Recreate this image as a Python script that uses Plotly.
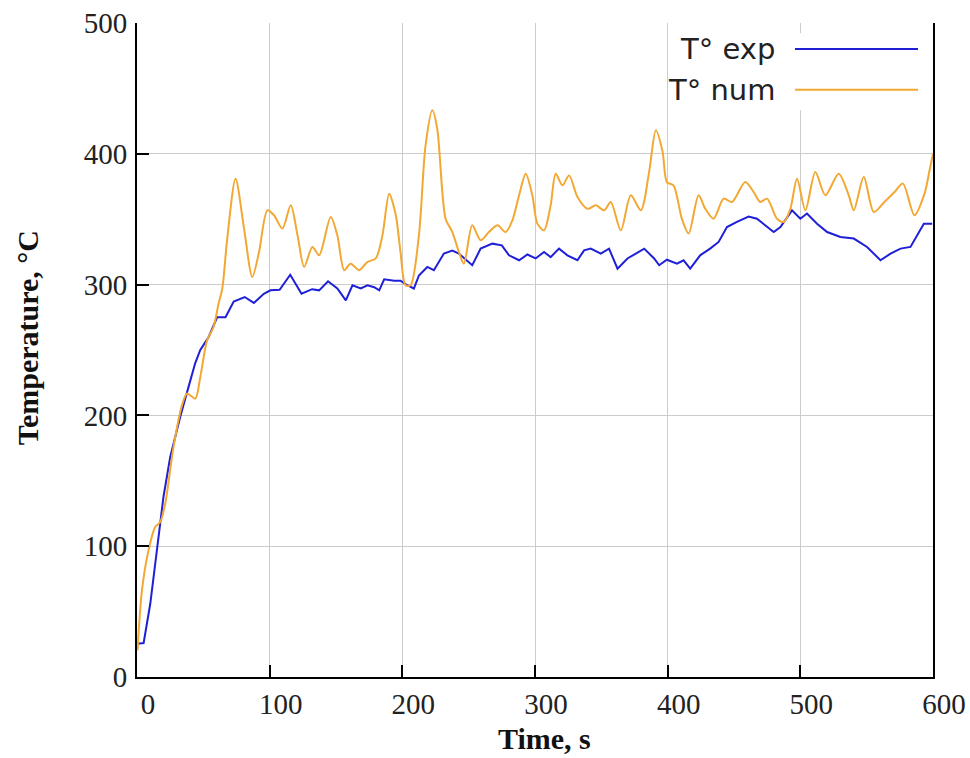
import plotly.graph_objects as go

# ---- data ----
exp_time = [0, 5, 10, 15, 20, 25, 32.6, 38.9, 43.9, 47.7,
            54, 60.4, 66.7, 72.9, 81.2, 88.1, 95.6, 100.6, 107.5, 115.5,
            124, 132, 137.3, 144, 151, 157.4, 162.4, 168.7, 173.7, 178.8,
            182.6, 186.3, 193.9, 198.6, 203.7, 208.7, 212.5, 218.8, 223.8, 231.3,
            237.7, 242.6, 252.7, 259, 267.8, 275, 280.4, 288, 294.3, 300.5,
            306.8, 311.8, 318.1, 324.4, 332, 337, 342, 349.6, 355.8, 362.2,
            369.7, 376, 382.3, 389.8, 393.6, 399.4, 407, 412, 417, 424.5,
            432, 438.4, 444.7, 452.2, 461, 467.3, 473.6, 479.9, 485, 493.7,
            500, 505, 512.6, 520.2, 530.2, 540.3, 550.3, 560.4, 568, 575.5,
            583, 593.1, 599.4]
exp_temp = [25.5, 26, 56, 97, 138, 168, 199, 222, 240, 250,
            260, 275, 275, 287, 290.5, 286, 293, 295.6, 296, 307.5,
            293, 296.5, 295.6, 302.5, 297, 288, 299.5, 297, 299.5, 298,
            295.6, 304, 303, 303, 299.5, 297, 307, 313.5, 311, 323.7,
            326, 323.7, 314.8, 327.5, 331.3, 330, 322.4, 318.6, 323, 320,
            325, 321, 327.5, 322.4, 318.6, 326.2, 327.5, 323.7, 327.5, 312.2,
            320, 323.7, 327.5, 320, 314.8, 319, 316, 318.6, 312.2, 322.4,
            327.5, 332.6, 344, 348, 352, 350.4, 345.3, 340.2, 344, 356.8,
            350.4, 354.3, 346.6, 340.2, 336.4, 335.2, 328.8, 318.6, 323.7, 327.5,
            328.8, 346.6, 346.6]

num_time = [0.4, 3.7, 8.7, 13.7, 17.5, 21.3, 27.5, 33.9, 37.7, 43.9,
            47.7, 52.8, 57.7, 61.5, 64.3, 68, 74.3, 80.7, 86.9, 92,
            98.3, 103.3, 109.6, 115.9, 121, 126, 132.2, 137.3, 146, 151,
            156.2, 161, 167.5, 173.7, 180, 185, 190.1, 195.1, 198.6, 202.4,
            206.2, 212.5, 217.5, 222.6, 226.3, 232.6, 237.7, 242.6, 246.4, 252.7,
            259, 265.3, 271.7, 277.9, 283, 288, 293, 298, 301.8, 306.8,
            311.8, 315.6, 320.7, 325.7, 332, 339.6, 345.8, 352.1, 357.1, 364.7,
            372.2, 379.8, 386, 391.1, 396.2, 399.4, 404.4, 410.7, 415.8, 423.3,
            428.3, 434.6, 442.2, 448.5, 458.5, 464.8, 469.8, 474.9, 482.4, 487.5,
            492.5, 497.5, 503.8, 511.3, 518.9, 528.9, 536.5, 540.3, 547.8, 555.4,
            563.4, 571, 577.3, 586, 593.6, 597.4, 600]
num_temp = [20.4, 66, 97, 114.7, 118.5, 132.6, 175.8, 207.7, 216.7, 212.8,
            229.4, 257.4, 267.6, 285.5, 297, 335, 381, 342.8, 305.8, 325,
            356.8, 353, 342.8, 360.6, 337.7, 313.5, 328.8, 322.4, 351.7, 337.7,
            311, 316, 311, 317.3, 320, 337.7, 369.5, 353, 325, 299.5,
            299.5, 337.7, 406.5, 433.3, 419.3, 350.4, 340.2, 325, 316, 345.3,
            333.9, 340.2, 345.3, 340.2, 349.2, 368.3, 384.8, 368.3, 346.6, 341.5,
            360.6, 384.8, 375.9, 383.5, 367, 358, 360.6, 356.8, 363.2, 341.5,
            368.3, 356.8, 386, 418, 401.4, 378.4, 375.9, 350.4, 339, 368.3,
            358, 350.4, 365.7, 363.2, 378.4, 370.8, 363.2, 365.7, 350.4, 347.9,
            358, 381, 356.8, 386, 368.3, 384.8, 368.3, 356.8, 382.3, 355.5,
            363.2, 370.8, 377.2, 353, 369.5, 387.4, 400]

x_ticks = [0, 100, 200, 300, 400, 500, 600]
y_ticks = [0, 100, 200, 300, 400, 500]
series_names = ["T° exp", "T° num"]
x_title = "Time, s"
y_title = "Temperature, °C"

BLUE = "#1f1fd8"
ORANGE = "#f2a832"

fig = go.Figure()
fig.add_trace(go.Scatter(x=exp_time, y=exp_temp, mode="lines", name=series_names[0],
                         line=dict(color=BLUE, width=2)))
fig.add_trace(go.Scatter(x=num_time, y=num_temp, mode="lines", name=series_names[1],
                         line=dict(color=ORANGE, width=2, shape="spline", smoothing=0.8)))

L, R, T, B = 137, 933, 22.7, 676.7
W, H = 970, 758
pw, ph = R - L, B - T

def px(xp):
    return (xp - L) / pw

def py(yp):
    return (B - yp) / ph

tickfont = dict(family="Liberation Serif", size=29, color="#222222")

fig.update_layout(
    width=W, height=H, autosize=False,
    margin=dict(l=L, r=W - R, t=T, b=H - B, pad=0, autoexpand=False),
    paper_bgcolor="white", plot_bgcolor="white",
    showlegend=False,
    xaxis=dict(range=[0, 600], tickvals=x_ticks, ticks="inside", ticklen=12, tickwidth=2,
               tickcolor="black", showline=True, linecolor="black", linewidth=2,
               showgrid=True, gridcolor="#cccccc", gridwidth=1, zeroline=False,
               automargin=False,
               tickfont=tickfont, ticklabelshift=11, ticklabelstandoff=0, fixedrange=True),
    yaxis=dict(range=[0, 500], tickvals=y_ticks, ticks="inside", ticklen=12, tickwidth=2,
               tickcolor="black", showline=True, linecolor="black", linewidth=2, mirror=True,
               showgrid=True, gridcolor="#cccccc", gridwidth=1, zeroline=False,
               automargin=False,
               tickfont=tickfont, ticklabelstandoff=2, fixedrange=True),
)

# axis titles
fig.add_annotation(text="<b>" + x_title + "</b>", xref="paper", yref="paper",
                   x=px(544), y=py(738), showarrow=False, xanchor="center", yanchor="middle",
                   font=dict(family="Liberation Serif", size=30, color="#111111"))
fig.add_annotation(text="<b>" + y_title + "</b>", xref="paper", yref="paper",
                   x=px(27), y=py(338), showarrow=False, xanchor="center", yanchor="middle",
                   textangle=-90,
                   font=dict(family="Liberation Serif", size=30, color="#111111"))

# legend (text left of the line sample)
fig.add_shape(type="rect", xref="paper", yref="paper", x0=px(670), x1=px(926),
              y0=py(110), y1=py(33), fillcolor="white", line=dict(width=0), layer="above")
for name, color, yc in [(series_names[0], BLUE, 48.7), (series_names[1], ORANGE, 89.5)]:
    fig.add_annotation(text=name, xref="paper", yref="paper", x=px(777), y=py(yc),
                       showarrow=False, xanchor="right", yanchor="middle",
                       font=dict(family="DejaVu Sans", size=29, color="#222222"))
    fig.add_shape(type="line", xref="paper", yref="paper", x0=px(795), x1=px(918),
                  y0=py(yc), y1=py(yc), line=dict(color=color, width=2), layer="above")

fig.write_html("out.html", config={"displayModeBar": False},
               post_script="document.body.style.margin='0';document.body.style.overflow='hidden';")
